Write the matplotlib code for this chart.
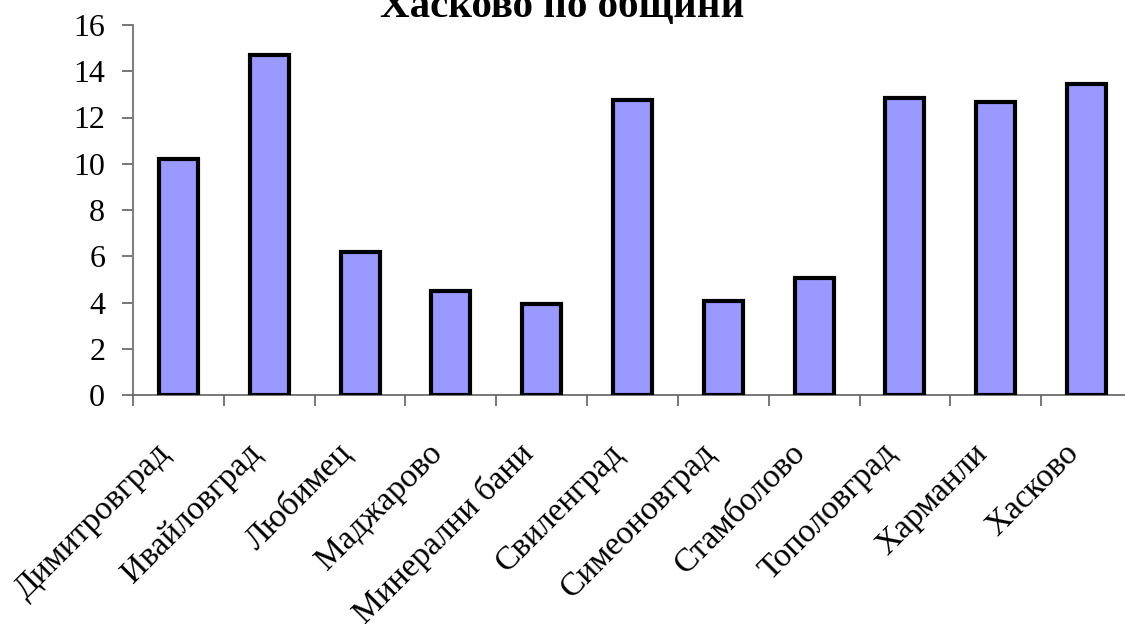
import matplotlib
matplotlib.use("Agg")
import matplotlib.pyplot as plt
import matplotlib.transforms as mtransforms

# общини в област Хасково
municipalities = [
    "Димитровград", "Ивайловград", "Любимец", "Маджарово", "Минерални бани",
    "Свиленград", "Симеоновград", "Стамболово", "Тополовград", "Харманли", "Хасково",
]
values = [10.2, 14.7, 6.2, 4.5, 3.95, 12.75, 4.05, 5.05, 12.85, 12.65, 13.45]
y_ticks = [0, 2, 4, 6, 8, 10, 12, 14, 16]

plt.rcParams["font.family"] = ["Liberation Serif", "DejaVu Serif"]

W, H = 1125, 624
fig = plt.figure(figsize=(W / 100, H / 100), dpi=100)
fig.patch.set_facecolor("white")

# оста е разположена в пиксели спрямо платното
left, right, top, bottom = 133, 1132, 25, 395
ax = fig.add_axes([left / W, (H - bottom) / H, (right - left) / W, (bottom - top) / H])

x = range(len(municipalities))
ax.bar(x, values, width=0.43, color="#9999ff", edgecolor="black", linewidth=3, zorder=3)

ax.set_xlim(-0.5, len(municipalities) - 0.5)
ax.set_ylim(0, 16)
ax.set_yticks(y_ticks)
ax.set_yticklabels([str(v) for v in y_ticks], fontsize=23)

# делителите между категориите
ax.set_xticks([i + 0.5 for i in range(-1, len(municipalities))], minor=False)
ax.set_xticklabels([])
ax.set_xticks(list(x), minor=True)
ax.set_xticklabels(municipalities, minor=True, rotation=45, ha="right",
                   va="center", rotation_mode="anchor", fontsize=24)
ax.tick_params(axis="x", which="minor", length=0, pad=40)
ax.tick_params(axis="x", which="major", length=8, width=1.2, color="#606060", direction="out")
ax.tick_params(axis="y", length=8, width=1.2, color="#606060", direction="out", pad=12)

# леко изместване на надписите наляво
shift = mtransforms.ScaledTranslation(-0.13, 0.02, fig.dpi_scale_trans)
for lbl in ax.get_xticklabels(minor=True):
    lbl.set_transform(lbl.get_transform() + shift)

for side in ("top", "right"):
    ax.spines[side].set_visible(False)
ax.spines["left"].set_color("#808080")
ax.spines["bottom"].set_color("#606060")
ax.spines["left"].set_linewidth(1.5)
ax.spines["bottom"].set_linewidth(1.2)

fig.text(562 / W, 1 - 17 / H, "Хасково по общини", ha="center", va="baseline",
         fontsize=29.5, fontweight="bold")

fig.savefig("out.png", dpi=100, facecolor="white")
